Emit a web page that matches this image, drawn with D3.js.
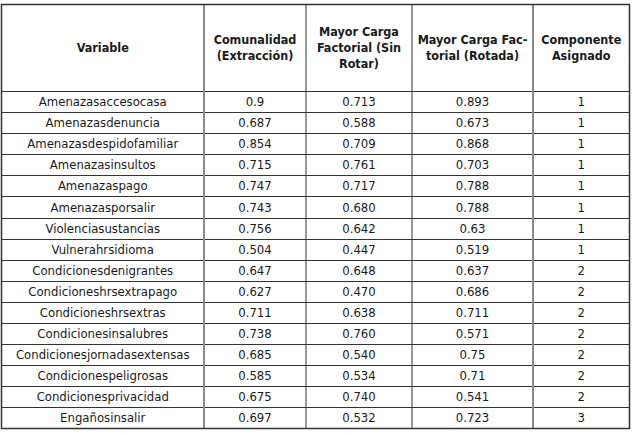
<!DOCTYPE html>
<html>
<head>
<meta charset="utf-8">
<script src="https://d3js.org/d3.v7.min.js"></script>
<style>
  body { margin: 0; background: #fff; }
  text { font-family: "DejaVu Sans Condensed", "DejaVu Sans", sans-serif; fill: #1a1a1a; }
</style>
</head>
<body>
<div id="table"></div>
<script>
// table values
const variables = ["Amenazasaccesocasa", "Amenazasdenuncia", "Amenazasdespidofamiliar", "Amenazasinsultos",
  "Amenazaspago", "Amenazasporsalir", "Violenciasustancias", "Vulnerahrsidioma", "Condicionesdenigrantes",
  "Condicioneshrsextrapago", "Condicioneshrsextras", "Condicionesinsalubres", "Condicionesjornadasextensas",
  "Condicionespeligrosas", "Condicionesprivacidad", "Engañosinsalir"];
const comunalidad = ["0.9", "0.687", "0.854", "0.715", "0.747", "0.743", "0.756", "0.504", "0.647",
  "0.627", "0.711", "0.738", "0.685", "0.585", "0.675", "0.697"];
const cargaSinRotar = ["0.713", "0.588", "0.709", "0.761", "0.717", "0.680", "0.642", "0.447", "0.648",
  "0.470", "0.638", "0.760", "0.540", "0.534", "0.740", "0.532"];
const cargaRotada = ["0.893", "0.673", "0.868", "0.703", "0.788", "0.788", "0.63", "0.519", "0.637",
  "0.686", "0.711", "0.571", "0.75", "0.71", "0.541", "0.723"];
const componente = ["1", "1", "1", "1", "1", "1", "1", "1", "2", "2", "2", "2", "2", "2", "2", "3"];
const headers = [["Variable"], ["Comunalidad", "(Extracción)"], ["Mayor Carga", "Factorial (Sin", "Rotar)"],
  ["Mayor Carga Fac-", "torial (Rotada)"], ["Componente", "Asignado"]];

const width = 634, height = 433;
const tLeft = 1.5, tTop = 4.5, tRight = 629.5, tBottom = 428.5, headBottom = 91;
const colEdges = [tLeft, 204, 306, 412, 533, tRight];

let svg = d3.select("#table").append("svg")
    .attr("width", width)
    .attr("height", height);

//rows as a band scale
let y = d3.scaleBand()
    .domain(d3.range(variables.length))
    .range([headBottom, tBottom]);

let columns = [variables, comunalidad, cargaSinRotar, cargaRotada, componente];
let colMid = i => (colEdges[i] + colEdges[i + 1]) / 2;

//horizontal row lines
svg.selectAll("line.row")
    .data(d3.range(1, variables.length))
    .enter().append("line")
    .attr("x1", tLeft).attr("x2", tRight)
    .attr("y1", d => Math.round(y(d)) + 0.5)
    .attr("y2", d => Math.round(y(d)) + 0.5)
    .style("stroke", "#333")
    .style("stroke-width", 1);

svg.append("line")
    .attr("x1", tLeft).attr("x2", tRight)
    .attr("y1", headBottom + 0.5).attr("y2", headBottom + 0.5)
    .style("stroke", "#333");

//vertical separators, first and last are lighter and thicker
[1, 2, 3, 4].forEach(function(i) {
    let heavy = (i == 1 || i == 4);
    svg.append("line")
        .attr("x1", colEdges[i]).attr("x2", colEdges[i])
        .attr("y1", tTop).attr("y2", tBottom)
        .style("stroke", heavy ? "#8a8a8a" : "#333")
        .style("stroke-width", heavy ? 2 : 1);
});

//outer border
svg.append("rect")
    .attr("x", tLeft).attr("y", tTop)
    .attr("width", tRight - tLeft).attr("height", tBottom - tTop)
    .style("fill", "none")
    .style("stroke", "#333")
    .style("stroke-width", 1.5);

//header text
headers.forEach(function(lines, i) {
    let mid = (tTop + headBottom) / 2 + 4.5;
    lines.forEach(function(t, k) {
        svg.append("text")
            .attr("x", colMid(i))
            .attr("y", mid + (k - (lines.length - 1) / 2) * 16)
            .attr("text-anchor", "middle")
            .style("font-size", "12.5px")
            .style("font-weight", "bold")
            .text(t);
    });
});

//cell text
columns.forEach(function(col, i) {
    svg.selectAll("text.c" + i)
        .data(col)
        .enter().append("text")
        .attr("class", "c" + i)
        .attr("x", colMid(i))
        .attr("y", (d, r) => y(r) + y.bandwidth() / 2 + 4.5)
        .attr("text-anchor", "middle")
        .style("font-size", "13px")
        .text(d => d);
});
</script>
</body>
</html>
